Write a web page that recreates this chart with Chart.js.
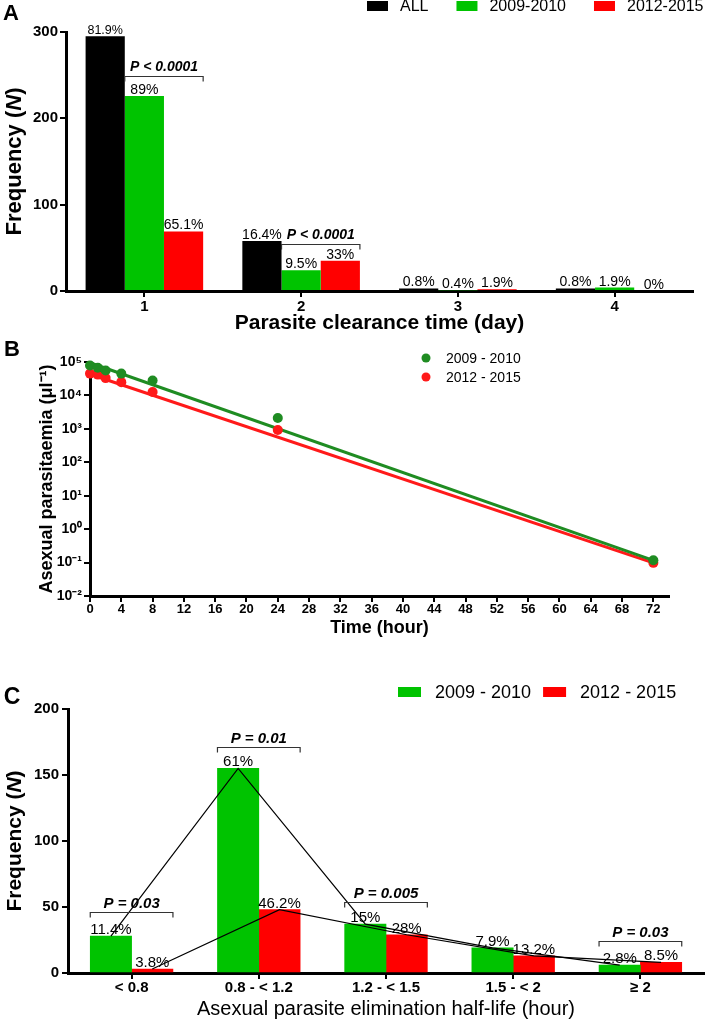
<!DOCTYPE html>
<html><head><meta charset="utf-8">
<script src="https://cdn.jsdelivr.net/npm/chart.js@4.4.0/dist/chart.umd.min.js"></script>
<style>
html,body{margin:0;padding:0;background:#fff;width:708px;height:1021px;overflow:hidden}
.panel{position:absolute;left:0;width:708px}
canvas{display:block}
</style></head>
<body>
<div class="panel" style="top:0;height:340px"><canvas id="cA" width="708" height="340"></canvas></div>
<div class="panel" style="top:340px;height:300px"><canvas id="cB" width="708" height="300"></canvas></div>
<div class="panel" style="top:640px;height:381px"><canvas id="cC" width="708" height="381"></canvas></div>
<script>
// ---------- Panel A data ----------
const aCategories = ['1', '2', '3', '4'];
const aSeriesNames = ['ALL', '2009-2010', '2012-2015'];
const aAll   = [295, 58, 3, 3];
const aEarly = [226, 24, 1, 4];
const aLate  = [69, 35, 2, 0];
const aPctAll   = ['81.9%', '16.4%', '0.8%', '0.8%'];
const aPctEarly = ['89%', '9.5%', '0.4%', '1.9%'];
const aPctLate  = ['65.1%', '33%', '1.9%', '0%'];
const aPText  = ['P < 0.0001', 'P < 0.0001', null, null];
const aPLevel = [249, 54, null, null];

// ---------- Panel B data ----------
const bSeriesNames = ['2009 - 2010', '2012 - 2015'];
const bTimes = [0, 1, 2, 4, 8, 24, 72];
const bEarly = [79000, 67000, 56000, 45000, 28000, 2100, 0.117];
const bLate  = [45000, 42000, 33000, 25000, 12600, 930, 0.098];
const bFitTimes = [0, 72];
const bEarlyFit = [95000, 0.117];
const bLateFit  = [43000, 0.098];
const bYTickValues = [0.01, 0.1, 1, 10, 100, 1000, 10000, 100000];
const bYTickLabels = ['10⁻²', '10⁻¹', '10⁰', '10¹', '10²', '10³', '10⁴', '10⁵'];

// ---------- Panel C data ----------
const cCategories = ['< 0.8', '0.8 - < 1.2', '1.2 - < 1.5', '1.5 - < 2', '≥ 2'];
const cSeriesNames = ['2009 - 2010', '2012 - 2015'];
const cEarly = [28, 155, 37, 19, 6];
const cLate  = [3, 48, 29, 13, 8];
const cPctEarly = ['11.4%', '61%', '15%', '7.9%', '2.8%'];
const cPctLate  = ['3.8%', '46.2%', '28%', '13.2%', '8.5%'];
const cPText  = ['P = 0.03', 'P = 0.01', 'P = 0.005', null, 'P = 0.03'];
const cPLevel = [46, 171, 54, null, 24];

// ---------- styling ----------
const FONT = '"Liberation Sans", Arial, Helvetica, sans-serif';
Chart.defaults.font.family = FONT;
Chart.defaults.color = '#000';
Chart.defaults.animation = false;

const BLACK = '#000000', GREEN = '#00c300', RED = '#ff0000', DGREEN = '#1f8c22', PRED = '#ff1a1a';

function axisBase(extra) {
  return Object.assign({
    border: {display: true, color: '#000', width: 3},
    grid: {display: true, drawOnChartArea: false, drawTicks: true, tickLength: 6, color: '#000', lineWidth: 2, offset: false}
  }, extra);
}

function rotatedMixed(ctx, cx, cy, parts, size) {
  ctx.save();
  ctx.translate(cx, cy);
  ctx.rotate(-Math.PI / 2);
  let total = 0;
  parts.forEach(p => { ctx.font = p.s + ' ' + size + 'px ' + FONT; p.w = ctx.measureText(p.t).width; total += p.w; });
  let x = -total / 2;
  ctx.textBaseline = 'middle'; ctx.textAlign = 'left'; ctx.fillStyle = '#000';
  parts.forEach(p => { ctx.font = p.s + ' ' + size + 'px ' + FONT; ctx.fillText(p.t, x, 0); x += p.w; });
  ctx.restore();
}

function drawLetter(ctx, t, x, y, size) {
  ctx.save();
  ctx.font = 'bold ' + size + 'px ' + FONT;
  ctx.fillStyle = '#000'; ctx.textAlign = 'center'; ctx.textBaseline = 'middle';
  ctx.fillText(t, x, y);
  ctx.restore();
}

function drawBoxLegend(chart, startX, cy, boxW, boxH, gapText, gapItem, size) {
  const ctx = chart.ctx;
  ctx.save();
  ctx.font = size + 'px ' + FONT;
  ctx.textBaseline = 'middle'; ctx.textAlign = 'left';
  let x = startX;
  chart.data.datasets.forEach(ds => {
    if (!ds.legend) return;
    ctx.fillStyle = ds.backgroundColor;
    ctx.fillRect(x, cy - boxH / 2, boxW, boxH);
    x += boxW + gapText;
    ctx.fillStyle = '#000';
    ctx.fillText(ds.label, x, cy + 1);
    x += ctx.measureText(ds.label).width + gapItem;
  });
  ctx.restore();
}

function drawPctLabels(chart, dsIndex, labels, size, sizeOverride) {
  const ctx = chart.ctx;
  const meta = chart.getDatasetMeta(dsIndex);
  ctx.save();
  ctx.fillStyle = '#000'; ctx.textAlign = 'center'; ctx.textBaseline = 'alphabetic';
  meta.data.forEach((el, i) => {
    const s = (sizeOverride && sizeOverride[i]) ? sizeOverride[i] : size;
    ctx.font = s + 'px ' + FONT;
    ctx.fillText(labels[i], el.x, el.y - 2);
  });
  ctx.restore();
}

function drawBrackets(chart, leftDs, rightDs, texts, levels, size) {
  const ctx = chart.ctx;
  const yScale = chart.scales.y;
  const mL = chart.getDatasetMeta(leftDs), mR = chart.getDatasetMeta(rightDs);
  ctx.save();
  texts.forEach((t, i) => {
    if (!t) return;
    const l = mL.data[i], r = mR.data[i];
    const x1 = l.x - l.width / 2, x2 = r.x + r.width / 2;
    const y = Math.round(yScale.getPixelForValue(levels[i])) + 0.5;
    ctx.strokeStyle = '#333'; ctx.lineWidth = 1.2;
    ctx.beginPath();
    ctx.moveTo(x1, y + 5); ctx.lineTo(x1, y); ctx.lineTo(x2, y); ctx.lineTo(x2, y + 5);
    ctx.stroke();
    ctx.font = 'italic bold ' + size + 'px ' + FONT;
    ctx.fillStyle = '#000'; ctx.textAlign = 'center'; ctx.textBaseline = 'middle';
    ctx.fillText(t, (x1 + x2) / 2, y - 9);
  });
  ctx.restore();
}

// ---------- Panel A ----------
new Chart(document.getElementById('cA'), {
  type: 'bar',
  data: {
    labels: aCategories,
    datasets: [
      {label: aSeriesNames[0], data: aAll, backgroundColor: BLACK, legend: true},
      {label: aSeriesNames[1], data: aEarly, backgroundColor: GREEN, legend: true},
      {label: aSeriesNames[2], data: aLate, backgroundColor: RED, legend: true}
    ]
  },
  options: {
    responsive: false, animation: false,
    layout: {padding: {top: 32, right: 15, left: 0, bottom: 0}},
    datasets: {bar: {categoryPercentage: 0.75, barPercentage: 1.0}},
    plugins: {legend: {display: false}, tooltip: {enabled: false}},
    scales: {
      x: axisBase({
        ticks: {font: {size: 15, weight: 'bold'}, padding: 1},
        title: {display: true, text: 'Parasite clearance time (day)', font: {size: 21, weight: 'bold'}, padding: {top: 0, bottom: 4}},
        afterFit(s) { s.height = 49; }
      }),
      y: axisBase({
        min: 0, max: 300,
        ticks: {stepSize: 100, font: {size: 15, weight: 'bold'}, padding: 2},
        afterFit(s) { s.width = 66; }
      })
    }
  },
  plugins: [{
    id: 'panelA',
    afterDraw(chart) {
      const ctx = chart.ctx, ca = chart.chartArea;
      drawLetter(ctx, 'A', 11, 14, 22);
      rotatedMixed(ctx, 15, (ca.top + ca.bottom) / 2,
        [{t: 'Frequency (', s: 'bold'}, {t: 'N', s: 'italic bold'}, {t: ')', s: 'bold'}], 22);
      drawBoxLegend(chart, 367, 6, 21, 10, 12, 28, 16);
      drawPctLabels(chart, 0, aPctAll, 14, {0: 12.5});
      drawPctLabels(chart, 1, aPctEarly, 14);
      drawPctLabels(chart, 2, aPctLate, 14);
      drawBrackets(chart, 1, 2, aPText, aPLevel, 14);
    }
  }]
});

// ---------- Panel B ----------
new Chart(document.getElementById('cB'), {
  type: 'scatter',
  data: {
    datasets: [
      {type: 'line', label: bSeriesNames[0] + ' fit', data: bFitTimes.map((t, i) => ({x: t, y: bEarlyFit[i]})),
       borderColor: DGREEN, backgroundColor: DGREEN, borderWidth: 3, pointRadius: 0, clip: false, order: 1},
      {type: 'line', label: bSeriesNames[1] + ' fit', data: bFitTimes.map((t, i) => ({x: t, y: bLateFit[i]})),
       borderColor: PRED, backgroundColor: PRED, borderWidth: 3, pointRadius: 0, clip: false, order: 1},
      {label: bSeriesNames[0], data: bTimes.map((t, i) => ({x: t, y: bEarly[i]})),
       backgroundColor: DGREEN, borderColor: DGREEN, pointRadius: 5, borderWidth: 0, clip: false, legendDot: true, order: 0},
      {label: bSeriesNames[1], data: bTimes.map((t, i) => ({x: t, y: bLate[i]})),
       backgroundColor: PRED, borderColor: PRED, pointRadius: 5, borderWidth: 0, clip: false, legendDot: true, order: 0}
    ]
  },
  options: {
    responsive: false, animation: false,
    layout: {padding: {top: 22, right: 39, left: 0, bottom: 0}},
    plugins: {legend: {display: false}, tooltip: {enabled: false}},
    scales: {
      x: axisBase({
        type: 'linear', min: 0, max: 74,
        ticks: {stepSize: 4, includeBounds: false, font: {size: 13, weight: 'bold'}, padding: 0, maxRotation: 0, autoSkip: false},
        title: {display: true, text: 'Time (hour)', font: {size: 18, weight: 'bold'}, padding: {top: 0, bottom: 1}},
        afterFit(s) { s.height = 44; }
      }),
      y: axisBase({
        type: 'logarithmic', min: 0.01, max: 100000,
        afterBuildTicks(s) { s.ticks = bYTickValues.map(v => ({value: v})); },
        ticks: {callback: (v, i) => bYTickLabels[i], font: {size: 14, weight: 'bold'}, padding: 2, autoSkip: false},
        title: {display: true, text: 'Asexual parasitaemia (μl⁻¹)', font: {size: 18, weight: 'bold'}, padding: {top: 36, bottom: 0}},
        afterFit(s) { s.width = 90; }
      })
    }
  },
  plugins: [{
    id: 'panelB',
    afterDraw(chart) {
      const ctx = chart.ctx;
      drawLetter(ctx, 'B', 12, 10, 22);
      ctx.save();
      ctx.font = '14px ' + FONT; ctx.textBaseline = 'middle'; ctx.textAlign = 'left';
      let y = 18;
      chart.data.datasets.forEach(ds => {
        if (!ds.legendDot) return;
        ctx.fillStyle = ds.backgroundColor;
        ctx.beginPath(); ctx.arc(426, y, 4.5, 0, Math.PI * 2); ctx.fill();
        ctx.fillStyle = '#000';
        ctx.fillText(ds.label, 446, y + 1);
        y += 19;
      });
      ctx.restore();
    }
  }]
});

// ---------- Panel C ----------
// bars and trend lines share one linear index axis; each group occupies 65% of a category
const cGroupFrac = 0.65;
const cShift = cGroupFrac / 4;
const cTickValues = cCategories.map((c, i) => i);
new Chart(document.getElementById('cC'), {
  type: 'bar',
  data: {
    datasets: [
      {label: cSeriesNames[0], data: cEarly.map((v, i) => ({x: i - cShift, y: v})), backgroundColor: GREEN, legend: true, order: 1},
      {label: cSeriesNames[1], data: cLate.map((v, i) => ({x: i + cShift, y: v})), backgroundColor: RED, legend: true, order: 1},
      {type: 'line', label: cSeriesNames[0] + ' trend', data: cEarly.map((v, i) => ({x: i - cShift, y: v})),
       borderColor: '#000', backgroundColor: '#000', borderWidth: 1.2, pointRadius: 0, tension: 0, order: 0},
      {type: 'line', label: cSeriesNames[1] + ' trend', data: cLate.map((v, i) => ({x: i + cShift, y: v})),
       borderColor: '#000', backgroundColor: '#000', borderWidth: 1.2, pointRadius: 0, tension: 0, order: 0}
    ]
  },
  options: {
    responsive: false, animation: false,
    layout: {padding: {top: 69, right: 4, left: 0, bottom: 0}},
    datasets: {bar: {grouped: false, categoryPercentage: 1.0, barPercentage: 1.0}},
    plugins: {legend: {display: false}, tooltip: {enabled: false}},
    scales: {
      x: axisBase({
        type: 'linear', min: -0.5, max: 4.5, offset: false,
        afterBuildTicks(s) { s.ticks = cTickValues.map(v => ({value: v})); },
        ticks: {callback: (v, i) => cCategories[i], font: {size: 15, weight: 'bold'}, padding: 0, maxRotation: 0, autoSkip: false},
        title: {display: true, text: 'Asexual parasite elimination half-life (hour)', font: {size: 20, weight: 'normal'}, padding: {top: 0, bottom: 0}},
        afterFit(s) { s.height = 48; }
      }),
      y: axisBase({
        min: 0, max: 200,
        ticks: {stepSize: 50, font: {size: 15, weight: 'bold'}, padding: 3},
        afterFit(s) { s.width = 68; }
      })
    }
  },
  plugins: [{
    id: 'panelC',
    afterDraw(chart) {
      const ctx = chart.ctx, ca = chart.chartArea;
      drawLetter(ctx, 'C', 12, 58, 23);
      rotatedMixed(ctx, 15, (ca.top + ca.bottom) / 2,
        [{t: 'Frequency (', s: 'bold'}, {t: 'N', s: 'italic bold'}, {t: ')', s: 'bold'}], 21);
      drawBoxLegend(chart, 398, 52, 23, 10, 14, 12, 18);
      drawPctLabels(chart, 0, cPctEarly, 15);
      drawPctLabels(chart, 1, cPctLate, 15);
      drawBrackets(chart, 0, 1, cPText, cPLevel, 15);
    }
  }]
});
</script>
</body></html>
